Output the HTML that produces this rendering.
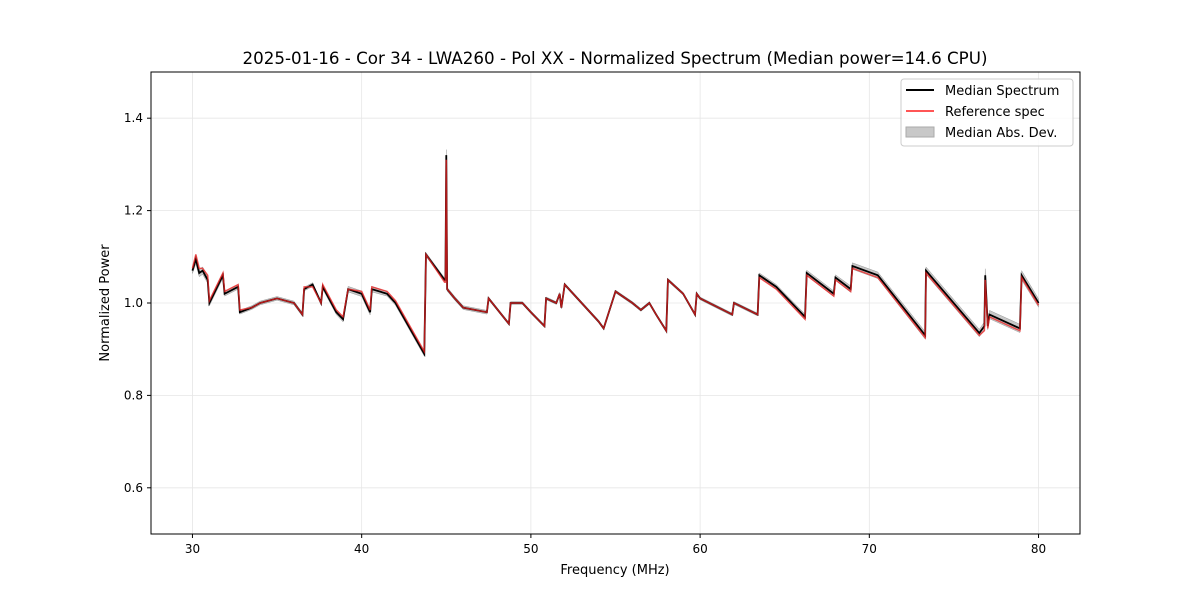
<!DOCTYPE html>
<html><head><meta charset="utf-8"><style>
body{margin:0;background:#fff;font-family:"DejaVu Sans","Liberation Sans",sans-serif;}
svg text{font-family:"DejaVu Sans","Liberation Sans",sans-serif;fill:#000}
</style></head><body>
<svg id="chart" width="1200" height="600" xmlns="http://www.w3.org/2000/svg">
<rect width="1200" height="600" fill="#fff"/>
<g id="grid"></g>
<g id="series"></g>
<rect x="151" y="72" width="929" height="462" fill="none" stroke="#000" stroke-width="1"/>
<g id="axes"></g>
<text x="615" y="64" font-size="16.7" text-anchor="middle">2025-01-16 - Cor 34 - LWA260 - Pol XX - Normalized Spectrum (Median power=14.6 CPU)</text>
<text x="615" y="574" font-size="13" text-anchor="middle">Frequency (MHz)</text>
<text x="109" y="303" font-size="13" text-anchor="middle" transform="rotate(-90 109 303)">Normalized Power</text>
<g>
<rect x="901" y="79" width="172" height="67" rx="3" fill="#fff" fill-opacity="0.8" stroke="#ccc"/>
<g><line x1="906" y1="90" x2="934" y2="90" stroke="#000" stroke-width="2"/><text x="945" y="95" font-size="13">Median Spectrum</text></g>
<g><line x1="906" y1="111" x2="934" y2="111" stroke="#ff5555" stroke-width="2"/><text x="945" y="116" font-size="13">Reference spec</text></g>
<g><rect x="906" y="127" width="28" height="10" fill="#c8c8c8" stroke="#aaa"/><text x="945" y="137" font-size="13">Median Abs. Dev.</text></g>
</g>
</svg>
<script>
const freqs=[30.0,30.2,30.4,30.6,30.9,31.0,31.8,31.9,32.7,32.8,33.5,34.0,35.0,36.0,36.5,36.6,37.1,37.6,37.7,38.5,38.9,39.2,40.0,40.5,40.6,41.5,42.0,43.7,43.8,44.9,44.95,45.0,45.05,45.5,46.0,47.4,47.5,48.7,48.8,49.5,50.0,50.8,50.9,51.5,51.7,51.8,52.0,54.0,54.3,55.0,56.0,56.5,57.0,57.4,58.0,58.1,59.0,59.7,59.8,60.0,61.9,62.0,63.4,63.5,64.5,66.2,66.3,67.9,68.0,68.9,69.0,70.5,73.3,73.35,76.5,76.8,76.85,77.0,77.1,78.9,79.0,80.0];
const medianVals=[1.07,1.095,1.065,1.07,1.05,1.0,1.06,1.02,1.035,0.98,0.99,1.0,1.01,1.0,0.975,1.03,1.04,1.0,1.035,0.98,0.965,1.03,1.02,0.98,1.03,1.02,1.0,0.89,1.105,1.05,1.05,1.32,1.03,1.01,0.99,0.98,1.01,0.955,1.0,1.0,0.98,0.95,1.01,1.0,1.02,0.99,1.04,0.96,0.945,1.025,1.0,0.985,1.0,0.975,0.94,1.05,1.02,0.975,1.02,1.01,0.975,1.0,0.975,1.06,1.035,0.97,1.065,1.02,1.055,1.03,1.08,1.06,0.93,1.07,0.935,0.95,1.06,0.95,0.975,0.945,1.06,1.0];
const refVals=[1.075,1.105,1.075,1.075,1.06,1.005,1.065,1.025,1.04,0.985,0.99,1.0,1.01,1.0,0.975,1.035,1.035,1.0,1.04,0.985,0.97,1.03,1.025,0.985,1.035,1.025,1.005,0.895,1.105,1.045,1.045,1.31,1.03,1.01,0.99,0.98,1.01,0.955,1.0,1.0,0.98,0.95,1.01,1.0,1.02,0.99,1.04,0.96,0.945,1.025,1.0,0.985,1.0,0.975,0.94,1.05,1.02,0.975,1.02,1.01,0.975,1.0,0.975,1.055,1.03,0.965,1.06,1.015,1.05,1.025,1.075,1.055,0.925,1.065,0.93,0.94,1.05,0.945,0.97,0.94,1.055,0.995];
const madVals=[0.006,0.01,0.008,0.008,0.007,0.006,0.006,0.005,0.005,0.004,0.004,0.004,0.004,0.004,0.004,0.004,0.004,0.004,0.005,0.005,0.006,0.006,0.006,0.006,0.006,0.005,0.005,0.005,0.004,0.004,0.004,0.012,0.004,0.004,0.004,0.004,0.003,0.003,0.003,0.003,0.003,0.003,0.003,0.003,0.003,0.003,0.003,0.003,0.003,0.003,0.003,0.003,0.003,0.003,0.003,0.003,0.003,0.003,0.003,0.003,0.003,0.003,0.003,0.005,0.005,0.006,0.006,0.006,0.006,0.007,0.007,0.007,0.008,0.008,0.008,0.009,0.014,0.008,0.009,0.009,0.01,0.009];
const xTicks=[30,40,50,60,70,80];
const yTicks=[0.6,0.8,1.0,1.2,1.4];
const X0=151,X1=1080,Y0=534,Y1=72,xmin=27.55,xmax=82.45,ymin=0.5,ymax=1.5;
const sx=f=>X0+(f-xmin)/(xmax-xmin)*(X1-X0);
const sy=v=>Y0-(v-ymin)/(ymax-ymin)*(Y0-Y1);
const NS="http://www.w3.org/2000/svg";
const mk=(t,a,p)=>{const e=document.createElementNS(NS,t);for(const k in a)e.setAttribute(k,a[k]);p.appendChild(e);return e;};
const grid=document.getElementById('grid'),axes=document.getElementById('axes'),ser=document.getElementById('series');
xTicks.forEach(t=>{const x=sx(t);
 const g=mk('line',{x1:x,x2:x,y1:Y1,y2:Y0,stroke:'#e6e6e6','stroke-width':0.8},grid);
 
 
 const tk=mk('line',{x1:x,x2:x,y1:Y0,y2:Y0+4,stroke:'#000'},axes);
 
 
 const tx=mk('text',{x:x,y:Y0+19,'font-size':12,'text-anchor':'middle'},axes);tx.textContent=t;
 
 
});
yTicks.forEach(t=>{const y=sy(t);
 const g=mk('line',{x1:X0,x2:X1,y1:y,y2:y,stroke:'#e6e6e6','stroke-width':0.8},grid);
 
 
 const tk=mk('line',{x1:X0-4,x2:X0,y1:y,y2:y,stroke:'#000'},axes);
 
 
 const tx=mk('text',{x:X0-8,y:y+4,'font-size':12,'text-anchor':'end'},axes);tx.textContent=t.toFixed(1);
 
 
});
let up=[],dn=[];
freqs.forEach((f,i)=>{up.push(sx(f)+','+sy(medianVals[i]+madVals[i]));dn.unshift(sx(f)+','+sy(medianVals[i]-madVals[i]));});
const band=mk('polygon',{points:up.concat(dn).join(' '),fill:'#b0b0b0','fill-opacity':0.7,stroke:'#999','stroke-width':0.5},ser);


const med=mk('polyline',{points:freqs.map((f,i)=>sx(f)+','+sy(medianVals[i])).join(' '),fill:'none',stroke:'#000','stroke-width':1.8},ser);


const ref=mk('polyline',{points:freqs.map((f,i)=>sx(f)+','+sy(refVals[i])).join(' '),fill:'none',stroke:'#ee2222','stroke-opacity':0.75,'stroke-width':1.5},ser);


</script>
</body></html>
